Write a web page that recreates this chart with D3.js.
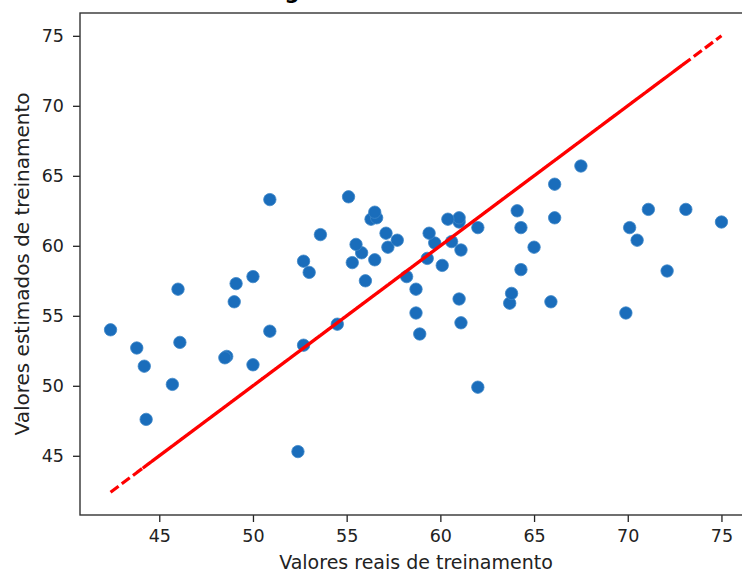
<!DOCTYPE html>
<html>
<head>
<meta charset="utf-8">
<script src="https://cdn.jsdelivr.net/npm/d3@7/dist/d3.min.js"></script>
<style>
  html, body { margin: 0; padding: 0; background: #fff; }
  svg { display: block; }
</style>
</head>
<body>
<svg id="chart" width="742" height="574"></svg>
<script>
// Data
const realValues = [42.4, 55.1, 44.3, 66.1, 50.0, 60.1, 48.6, 57.1, 62.0, 43.8,
  71.1, 52.7, 61.0, 46.0, 69.9, 56.3, 50.9, 64.3, 58.9, 67.5,
  49.0, 61.1, 55.8, 73.1, 44.2, 58.2, 64.1, 53.6, 70.1, 52.4,
  60.6, 46.1, 65.9, 56.6, 50.0, 72.1, 59.3, 45.7, 63.7, 55.5,
  70.5, 49.1, 61.1, 57.2, 52.7, 66.1, 58.7, 48.5, 65.0, 54.5,
  61.0, 50.9, 64.3, 56.5, 59.7, 53.0, 62.0, 57.7, 61.0, 55.3,
  63.8, 56.0, 60.4, 56.5, 58.7, 59.4, 75.0];
const estimatedValues = [54.0, 63.5, 47.6, 64.4, 51.5, 58.6, 52.1, 60.9, 49.9, 52.7,
  62.6, 58.9, 61.7, 56.9, 55.2, 61.9, 63.3, 58.3, 53.7, 65.7,
  56.0, 54.5, 59.5, 62.6, 51.4, 57.8, 62.5, 60.8, 61.3, 45.3,
  60.3, 53.1, 56.0, 62.0, 57.8, 58.2, 59.1, 50.1, 55.9, 60.1,
  60.4, 57.3, 59.7, 59.9, 52.9, 62.0, 55.2, 52.0, 59.9, 54.4,
  62.0, 53.9, 61.3, 62.4, 60.2, 58.1, 61.3, 60.4, 56.2, 58.8,
  56.6, 57.5, 61.9, 59.0, 56.9, 60.9, 61.7];
const xTicks = [45, 50, 55, 60, 65, 70, 75];
const yTicks = [45, 50, 55, 60, 65, 70, 75];
const titleText = "Regressão Linear - Treinamento";
const xLabel = "Valores reais de treinamento";
const yLabel = "Valores estimados de treinamento";

const svg = d3.select("#chart");
const font = "'DejaVu Sans', sans-serif";
const plot = { left: 80, right: 752, top: 13, bottom: 515 };

// matplotlib-style 5% margins
function padded(lo, hi) { const m = (hi - lo) * 0.05; return [lo - m, hi + m]; }
const xExt = d3.extent(realValues);
const yExt = d3.extent(estimatedValues.concat(realValues));
const x = d3.scaleLinear().domain(padded(xExt[0], xExt[1])).range([plot.left, plot.right]);
const y = d3.scaleLinear().domain(padded(yExt[0], yExt[1])).range([plot.bottom, plot.top]);

// title (mostly cropped above the picture, as in the reference)
svg.append("text")
  .attr("x", 254).attr("y", -1)
  .attr("font-family", font).attr("font-weight", "bold").attr("font-size", 21)
  .attr("fill", "#000")
  .text(titleText);

// scatter points
svg.append("g").selectAll("circle")
  .data(realValues.map((v, i) => [v, estimatedValues[i]]))
  .join("circle")
  .attr("cx", d => x(d[0]))
  .attr("cy", d => y(d[1]))
  .attr("r", 6.2)
  .attr("fill", "#1a6dbb")
  .attr("stroke", "#3d86c8")
  .attr("stroke-width", 0.8);

// identity line drawn through real values in data order (r--)
const line = d3.line().x(d => x(d)).y(d => y(d));
svg.append("path")
  .datum(realValues)
  .attr("d", line)
  .attr("fill", "none")
  .attr("stroke", "#ff0000")
  .attr("stroke-width", 3.2)
  .attr("stroke-dasharray", "10,4");

// axes
const xAxis = svg.append("g")
  .attr("transform", `translate(0,${plot.bottom})`)
  .call(d3.axisBottom(x).tickValues(xTicks).tickSize(7).tickPadding(8).tickFormat(d3.format("d")));
const yAxis = svg.append("g")
  .attr("transform", `translate(${plot.left},0)`)
  .call(d3.axisLeft(y).tickValues(yTicks).tickSize(7).tickPadding(9).tickFormat(d3.format("d")));
[xAxis, yAxis].forEach(g => {
  g.select(".domain").remove();
  g.selectAll(".tick line").attr("stroke", "#222").attr("stroke-width", 1.3);
  g.selectAll(".tick text").attr("font-family", font).attr("font-size", 17.5).attr("fill", "#222");
});

// frame
svg.append("rect")
  .attr("x", plot.left).attr("y", plot.top)
  .attr("width", plot.right - plot.left).attr("height", plot.bottom - plot.top)
  .attr("fill", "none").attr("stroke", "#333").attr("stroke-width", 1.4);

// axis labels
svg.append("text")
  .attr("x", 416).attr("y", 569)
  .attr("text-anchor", "middle")
  .attr("font-family", font).attr("font-size", 19).attr("fill", "#222")
  .text(xLabel);
svg.append("text")
  .attr("transform", `translate(29,${(plot.top + plot.bottom) / 2}) rotate(-90)`)
  .attr("text-anchor", "middle")
  .attr("font-family", font).attr("font-size", 20).attr("fill", "#222")
  .text(yLabel);
</script>
</body>
</html>
